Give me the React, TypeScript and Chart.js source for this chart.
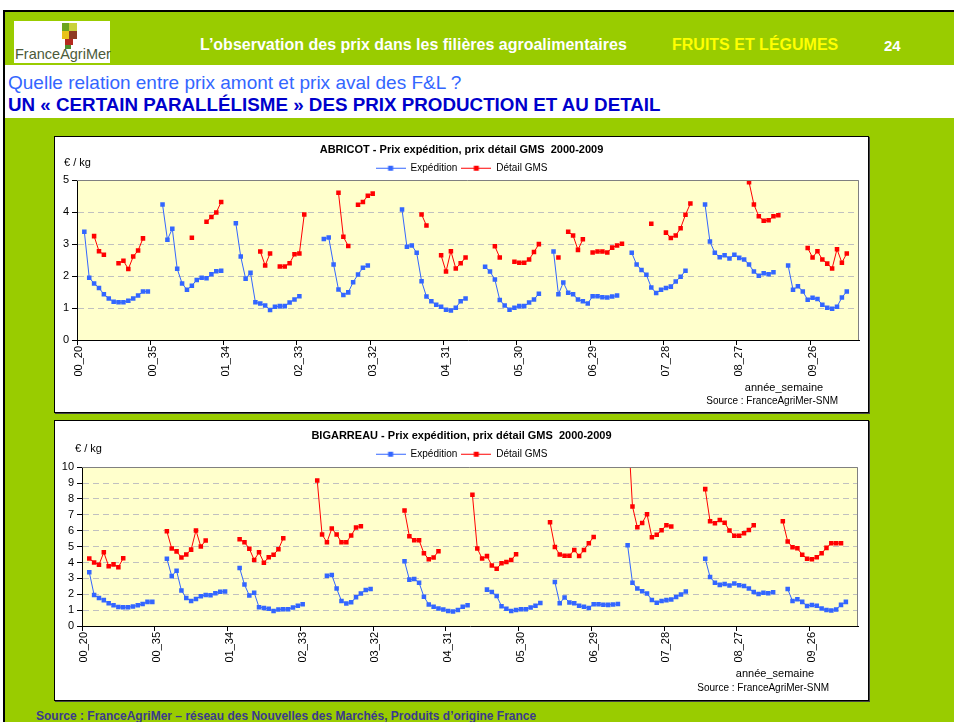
import React, { useEffect, useRef } from 'react';
import { Chart, registerables } from 'chart.js';

Chart.register(...registerables);

const FONT = '"Liberation Sans", Arial, Helvetica, sans-serif';
Chart.defaults.font.family = FONT;

const n = null;

// Categories: année_semaine, weeks 20..35 of each season 2000-2009
const years = ['00', '01', '02', '03', '04', '05', '06', '07', '08', '09'];
const weeks = [20, 21, 22, 23, 24, 25, 26, 27, 28, 29, 30, 31, 32, 33, 34, 35];
const categories: string[] = years.flatMap((y) => weeks.map((w) => `${y}_${w}`));
const tickEvery = 15;

const seriesNames = ['Expédition', 'Détail GMS'];

// ABRICOT (€/kg), one row per season (weeks 20..35)
const abricotExpedition = [
  n, 3.39, 1.95, 1.77, 1.63, 1.43, 1.30, 1.20, 1.18, 1.18, 1.23, 1.30, 1.39, 1.52, 1.52, n,
  n, 4.24, 3.14, 3.48, 2.23, 1.77, 1.57, 1.70, 1.88, 1.95, 1.93, 2.06, 2.15, 2.17, n, n,
  3.65, 2.61, 1.92, 2.10, 1.18, 1.14, 1.08, 0.94, 1.04, 1.06, 1.06, 1.17, 1.27, 1.37, n, n,
  n, n, 3.16, 3.21, 2.36, 1.58, 1.41, 1.49, 1.81, 2.05, 2.26, 2.33, n, n, n, n,
  n, n, 4.08, 2.92, 2.96, 2.73, 1.84, 1.36, 1.21, 1.10, 1.04, 0.95, 0.92, 1.01, 1.21, 1.30,
  n, n, n, 2.29, 2.14, 1.89, 1.25, 1.08, 0.95, 1.01, 1.06, 1.06, 1.17, 1.27, 1.45, n,
  n, 2.77, 1.43, 1.80, 1.48, 1.43, 1.27, 1.21, 1.14, 1.37, 1.37, 1.34, 1.33, 1.36, 1.39, n,
  n, 2.73, 2.36, 2.19, 2.04, 1.64, 1.47, 1.57, 1.63, 1.67, 1.83, 1.98, 2.17, n, n, n,
  4.24, 3.08, 2.73, 2.59, 2.65, 2.55, 2.67, 2.57, 2.52, 2.36, 2.14, 2.01, 2.09, 2.06, 2.12, n,
  n, 2.33, 1.57, 1.68, 1.52, 1.26, 1.32, 1.28, 1.10, 1.01, 0.98, 1.04, 1.33, 1.52, n, n,
];

const abricotDetail = [
  n, n, n, 3.25, 2.78, 2.67, n, n, 2.40, 2.48, 2.22, 2.61, 2.80, 3.18, n, n,
  n, n, n, n, n, n, n, 3.20, n, n, 3.70, 3.85, 3.99, 4.32, n, n,
  n, n, n, n, n, 2.77, 2.33, 2.71, n, 2.30, 2.30, 2.40, 2.68, 2.71, 3.93, n,
  n, n, n, n, n, 4.61, 3.23, 2.94, n, 4.23, 4.32, 4.51, 4.58, n, n, n,
  n, n, n, n, n, n, 3.93, 3.58, n, n, 2.65, 2.14, 2.78, 2.24, 2.40, 2.58,
  n, n, n, n, n, 2.93, 2.58, n, n, 2.45, 2.42, 2.42, 2.52, 2.75, 3.00, n,
  n, n, 2.58, n, 3.39, 3.27, 2.82, 3.15, n, 2.74, 2.77, 2.77, 2.74, 2.89, 2.96, 3.01,
  n, n, n, n, n, 3.64, n, n, 3.36, 3.19, 3.27, 3.50, 3.92, 4.27, n, n,
  n, n, n, n, n, n, n, n, n, 4.94, 4.24, 3.87, 3.73, 3.75, 3.87, 3.90,
  n, n, n, n, n, 2.88, 2.58, 2.78, 2.52, 2.39, 2.24, 2.84, 2.42, 2.71, n, n,
];

// BIGARREAU (€/kg)
const bigarreauExpedition = [
  n, 3.39, 1.95, 1.77, 1.63, 1.43, 1.30, 1.20, 1.18, 1.18, 1.23, 1.30, 1.39, 1.52, 1.52, n,
  n, 4.24, 3.14, 3.48, 2.23, 1.77, 1.57, 1.70, 1.88, 1.95, 1.93, 2.06, 2.15, 2.17, n, n,
  3.65, 2.61, 1.92, 2.10, 1.18, 1.14, 1.08, 0.94, 1.04, 1.06, 1.06, 1.17, 1.27, 1.37, n, n,
  n, n, 3.16, 3.21, 2.36, 1.58, 1.41, 1.49, 1.81, 2.05, 2.26, 2.33, n, n, n, n,
  n, n, 4.08, 2.92, 2.96, 2.73, 1.84, 1.36, 1.21, 1.10, 1.04, 0.95, 0.92, 1.01, 1.21, 1.30,
  n, n, n, 2.29, 2.14, 1.89, 1.25, 1.08, 0.95, 1.01, 1.06, 1.06, 1.17, 1.27, 1.45, n,
  n, 2.77, 1.43, 1.80, 1.48, 1.43, 1.27, 1.21, 1.14, 1.37, 1.37, 1.34, 1.33, 1.36, 1.39, n,
  5.08, 2.73, 2.36, 2.19, 2.04, 1.64, 1.47, 1.57, 1.63, 1.67, 1.83, 1.98, 2.17, n, n, n,
  4.24, 3.08, 2.73, 2.59, 2.65, 2.55, 2.67, 2.57, 2.52, 2.36, 2.14, 2.01, 2.09, 2.06, 2.12, n,
  n, 2.33, 1.57, 1.68, 1.52, 1.26, 1.32, 1.28, 1.10, 1.01, 0.98, 1.04, 1.33, 1.52, n, n,
];

const bigarreauDetail = [
  n, 4.25, 4.00, 3.86, 4.64, 3.76, 3.88, 3.70, 4.27, n, n, n, n, n, n, n,
  n, 5.96, 4.88, 4.70, 4.31, 4.50, 4.81, 6.02, 5.00, 5.39, n, n, n, n, n, n,
  5.46, 5.27, 4.87, 4.16, 4.64, 3.99, 4.33, 4.49, 4.83, 5.53, n, n, n, n, n, n,
  9.16, 5.76, 5.27, 6.14, 5.76, 5.27, 5.27, 5.70, 6.20, 6.28, n, n, n, n, n, n,
  n, n, 7.28, 5.65, 5.40, 5.40, 4.58, 4.20, 4.32, 4.71, n, n, n, n, n, n,
  8.26, 4.88, 4.25, 4.40, 3.81, 3.61, 3.95, 4.03, 4.15, 4.52, n, n, n, n, n, n,
  6.53, 4.98, 4.50, 4.43, 4.43, 4.79, 4.41, 4.79, 5.21, 5.61, n, n, n, n, n, n,
  13.0, 7.53, 6.22, 6.49, 7.04, 5.59, 5.74, 6.03, 6.35, 6.26, n, n, n, n, n, n,
  8.62, 6.59, 6.47, 6.68, 6.50, 6.01, 5.69, 5.69, 5.84, 6.04, 6.35, n, n, n, n, n,
  6.60, 5.32, 4.96, 4.89, 4.49, 4.24, 4.20, 4.33, 4.58, 4.92, 5.21, 5.21, 5.21, n, n, n,
];

const BLUE = '#3366FF';
const RED = '#FF0000';

function legendMarker(color: string): HTMLCanvasElement {
  const c = document.createElement('canvas');
  c.width = 30;
  c.height = 7;
  const g = c.getContext('2d')!;
  g.strokeStyle = color;
  g.lineWidth = 1;
  g.beginPath();
  g.moveTo(0, 3.5);
  g.lineTo(30, 3.5);
  g.stroke();
  g.fillStyle = color;
  g.fillRect(12.5, 1, 5, 5);
  return c;
}

const plotFrame = {
  id: 'plotFrame',
  beforeDraw(chart: any) {
    const { ctx, chartArea: a } = chart;
    ctx.save();
    ctx.fillStyle = '#FFFFCC';
    ctx.fillRect(a.left, a.top, a.right - a.left, a.bottom - a.top);
    ctx.restore();
  },
  afterDraw(chart: any) {
    const { ctx, chartArea: a } = chart;
    ctx.save();
    ctx.strokeStyle = '#808080';
    ctx.lineWidth = 1;
    ctx.beginPath();
    ctx.moveTo(Math.round(a.left), Math.round(a.top) + 0.5);
    ctx.lineTo(Math.round(a.right) - 0.5, Math.round(a.top) + 0.5);
    ctx.lineTo(Math.round(a.right) - 0.5, Math.round(a.bottom));
    ctx.stroke();
    ctx.restore();
  },
};

type Spec = {
  title: string;
  expedition: (number | null)[];
  detail: (number | null)[];
  yMax: number;
  left: number;
  top: number;
  width: number;
  height: number;
  padTop: number;
  plotRightGap: number;
  legendH: number;
  yAxisW: number;
  xAxisH: number;
  unitX: number;
  unitY: number;
  xTitleCX: number;
  xTitleY: number;
  sourceRight: number;
  sourceY: number;
};

function ChartPanel({ spec }: { spec: Spec }) {
  const ref = useRef<HTMLCanvasElement>(null);
  useEffect(() => {
    const canvas = ref.current!;
    const markers = [legendMarker(BLUE), legendMarker(RED)];
    const chart = new Chart(canvas, {
      type: 'line',
      data: {
        labels: categories,
        datasets: [
          {
            label: seriesNames[0],
            data: spec.expedition,
            borderColor: BLUE,
            backgroundColor: BLUE,
            borderWidth: 1,
            pointStyle: 'rect',
            pointRadius: 3.2,
            pointHoverRadius: 3.2,
            pointBorderWidth: 0,
            spanGaps: false,
            tension: 0,
          },
          {
            label: seriesNames[1],
            data: spec.detail,
            borderColor: RED,
            backgroundColor: RED,
            borderWidth: 1,
            pointStyle: 'rect',
            pointRadius: 3.2,
            pointHoverRadius: 3.2,
            pointBorderWidth: 0,
            spanGaps: false,
            tension: 0,
          },
        ],
      },
      options: {
        animation: false,
        responsive: false,
        events: [],
        layout: { padding: { top: spec.padTop, right: 0, left: 0, bottom: 0 } },
        plugins: {
          tooltip: { enabled: false },
          title: {
            display: true,
            text: spec.title,
            color: '#000',
            font: { family: FONT, size: 11, weight: 'bold' },
            padding: { top: 5, bottom: 3 },
          },
          legend: {
            display: true,
            position: 'top',
            align: 'center',
            maxHeight: spec.legendH,
            labels: {
              usePointStyle: true,
              pointStyleWidth: 30,
              color: '#000',
              font: { family: FONT, size: 10 },
              padding: 4,
              generateLabels: (ch: any) =>
                (Chart.defaults.plugins.legend.labels.generateLabels as any)(ch).map((it: any, i: number) => ({
                  ...it,
                  pointStyle: markers[i],
                })),
            },
          },
        },
        scales: {
          x: {
            type: 'category',
            offset: true,
            grid: {
              offset: true,
              drawOnChartArea: false,
              drawTicks: true,
              tickLength: 5,
              tickWidth: 1,
              tickColor: (ctx: any) => (ctx.index % tickEvery === 0 ? '#000' : 'rgba(0,0,0,0)'),
            },
            border: { display: true, color: '#000', width: 1 },
            ticks: {
              autoSkip: false,
              maxRotation: 90,
              minRotation: 90,
              padding: 1,
              color: '#000',
              font: { family: FONT, size: 11 },
              callback: (v: any, i: number) => (i % tickEvery === 0 ? categories[i] : ''),
            },
            afterFit: (s: any) => {
              s.height = spec.xAxisH;
              s.paddingLeft = 0;
              s.paddingRight = spec.plotRightGap;
            },
          },
          y: {
            min: 0,
            max: spec.yMax,
            ticks: {
              stepSize: 1,
              autoSkip: false,
              color: '#000',
              font: { family: FONT, size: 11 },
              padding: 3,
            },
            grid: { color: '#C0C0C0', lineWidth: 1, tickColor: '#000', tickLength: 5, drawTicks: true },
            border: { display: true, color: '#000', width: 1, dash: [6, 4] },
            afterFit: (s: any) => {
              s.width = spec.yAxisW;
            },
          },
        },
      } as any,
      plugins: [plotFrame],
    });
    return () => chart.destroy();
  }, []);

  const txt: React.CSSProperties = {
    position: 'absolute',
    whiteSpace: 'nowrap',
    lineHeight: 1,
    color: '#000',
    fontFamily: FONT,
  };

  return (
    <div
      style={{
        position: 'absolute',
        left: spec.left,
        top: spec.top,
        width: spec.width,
        height: spec.height,
        border: '1px solid #000',
        background: '#fff',
        boxShadow: '1px 1px 0 #444',
      }}
    >
      <canvas
        ref={ref}
        width={spec.width}
        height={spec.height}
        style={{ position: 'absolute', left: 0, top: 0, width: spec.width, height: spec.height }}
      />
      <div style={{ ...txt, left: spec.unitX, top: spec.unitY, fontSize: 11, transform: 'translateY(-50%)' }}>€ / kg</div>
      <div style={{ ...txt, left: spec.xTitleCX, top: spec.xTitleY, fontSize: 11, transform: 'translate(-50%,-50%)' }}>
        année_semaine
      </div>
      <div
        style={{ ...txt, left: spec.sourceRight, top: spec.sourceY, fontSize: 10, transform: 'translate(-100%,-50%)' }}
      >
        Source : FranceAgriMer-SNM
      </div>
    </div>
  );
}

const topSpec: Spec = {
  title: 'ABRICOT - Prix expédition, prix détail GMS  2000-2009',
  expedition: abricotExpedition,
  detail: abricotDetail,
  yMax: 5,
  left: 54,
  top: 136,
  width: 813,
  height: 275,
  padTop: 1,
  plotRightGap: 9,
  legendH: 21,
  yAxisW: 22,
  xAxisH: 72,
  unitX: 9,
  unitY: 25,
  xTitleCX: 729,
  xTitleY: 250,
  sourceRight: 783,
  sourceY: 264,
};

const bottomSpec: Spec = {
  title: 'BIGARREAU - Prix expédition, prix détail GMS  2000-2009',
  expedition: bigarreauExpedition,
  detail: bigarreauDetail,
  yMax: 10,
  left: 54,
  top: 420,
  width: 813,
  height: 279,
  padTop: 3,
  plotRightGap: 10,
  legendH: 22,
  yAxisW: 27,
  xAxisH: 74,
  unitX: 20,
  unitY: 27,
  xTitleCX: 720,
  xTitleY: 252,
  sourceRight: 774,
  sourceY: 267,
};

export default function App() {
  const t: React.CSSProperties = {
    position: 'absolute',
    whiteSpace: 'nowrap',
    lineHeight: 1,
    fontFamily: FONT,
    transform: 'translateY(-50%)',
  };
  return (
    <div style={{ position: 'fixed', left: 0, top: 0, width: 954, height: 722, background: '#fff', overflow: 'hidden' }}>
      <div
        style={{
          position: 'absolute',
          left: 3,
          top: 10,
          width: 951,
          height: 712,
          borderLeft: '2px solid #000',
          borderTop: '2px solid #000',
          background: '#99CC00',
        }}
      />
      <div style={{ position: 'absolute', left: 5, top: 65, width: 949, height: 53, background: '#fff' }} />
      {/* logo */}
      <div style={{ position: 'absolute', left: 14, top: 21, width: 96, height: 42, background: '#fff' }}>
        <div style={{ position: 'absolute', left: 48, top: 2, width: 7, height: 8, background: '#6BA51F' }} />
        <div style={{ position: 'absolute', left: 55, top: 2, width: 8, height: 8, background: '#C9D23A' }} />
        <div style={{ position: 'absolute', left: 48, top: 10, width: 7, height: 8, background: '#E8C21A' }} />
        <div style={{ position: 'absolute', left: 55, top: 10, width: 8, height: 8, background: '#8E3B22' }} />
        <div style={{ position: 'absolute', left: 51, top: 18, width: 8, height: 6, background: '#B42A1E' }} />
        <div style={{ position: 'absolute', left: 51, top: 24, width: 6, height: 4, background: '#4F8F2C' }} />
        <div style={{ ...t, left: 1, top: 33, fontSize: 14.5, color: '#4C5A3A' }}>FranceAgriMer</div>
      </div>
      <div style={{ ...t, left: 200, top: 45, fontSize: 16, fontWeight: 'bold', color: '#fff' }}>
        L’observation des prix dans les filières agroalimentaires
      </div>
      <div style={{ ...t, left: 672, top: 45, fontSize: 16, fontWeight: 'bold', color: '#FFFF00' }}>
        FRUITS ET LÉGUMES
      </div>
      <div style={{ ...t, left: 884, top: 45, fontSize: 15, fontWeight: 'bold', color: '#fff' }}>24</div>
      <div style={{ ...t, left: 8, top: 82, fontSize: 19, color: '#3366FF' }}>
        Quelle relation entre prix amont et prix aval des F&amp;L ?
      </div>
      <div style={{ ...t, left: 8, top: 105, fontSize: 18.8, fontWeight: 'bold', color: '#0000CC' }}>
        UN « CERTAIN PARALLÉLISME » DES PRIX PRODUCTION ET AU DETAIL
      </div>
      <ChartPanel spec={topSpec} />
      <ChartPanel spec={bottomSpec} />
      <div style={{ ...t, left: 36, top: 716, fontSize: 12, fontWeight: 'bold', color: '#3A3A8C' }}>
        Source : FranceAgriMer – réseau des Nouvelles des Marchés, Produits d’origine France
      </div>
    </div>
  );
}
